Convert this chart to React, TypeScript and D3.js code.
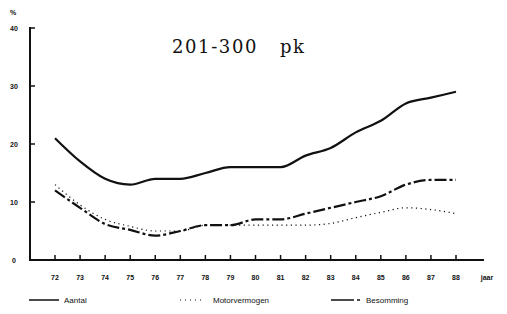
import { useEffect, useRef } from 'react';
import * as d3 from 'd3';

const years = ['72', '73', '74', '75', '76', '77', '78', '79', '80', '81', '82', '83', '84', '85', '86', '87', '88'];
const aantal = [21, 17, 14, 13, 14, 14, 15, 16, 16, 16, 18, 19.3, 22, 24, 27, 28, 29];
const motorvermogen = [13, 9.5, 7, 5.8, 5, 5, 6, 6, 6, 6, 6, 6.3, 7.3, 8.2, 9, 8.7, 8];
const besomming = [12, 9, 6.2, 5.2, 4.2, 5, 6, 6, 7, 7, 8, 9, 10, 11, 13, 13.8, 13.8];
const yTicks = [0, 10, 20, 30, 40];

const W = 507;
const H = 314;

const App = () => {
  const svgRef = useRef<SVGSVGElement>(null);

  useEffect(() => {
    const svg = d3.select(svgRef.current);
    svg.selectAll('*').remove();

    const x = d3.scalePoint().domain(years).range([55, 456]);
    const y = d3.scaleLinear().domain([0, 40]).range([260, 28]);
    const ink = '#111';

    // assen
    svg.append('line')
      .attr('x1', 30).attr('x2', 30).attr('y1', 27).attr('y2', 260)
      .attr('stroke', ink).attr('stroke-width', 2);
    svg.append('line')
      .attr('x1', 29).attr('x2', 484).attr('y1', 260).attr('y2', 260)
      .attr('stroke', ink).attr('stroke-width', 2);

    yTicks.forEach(t => {
      svg.append('line')
        .attr('x1', 30).attr('x2', 35).attr('y1', y(t)).attr('y2', y(t))
        .attr('stroke', ink).attr('stroke-width', 1.5);
      svg.append('text')
        .attr('x', 14).attr('y', y(t) + 3)
        .attr('text-anchor', 'middle')
        .attr('font-family', 'Liberation Sans, Arial, sans-serif')
        .attr('font-weight', 'bold')
        .attr('font-size', 7)
        .attr('fill', ink)
        .text(t);
    });

    svg.append('text')
      .attr('x', 13).attr('y', 15)
      .attr('text-anchor', 'middle')
      .attr('font-family', 'Liberation Sans, Arial, sans-serif')
      .attr('font-weight', 'bold')
      .attr('font-size', 7)
      .attr('fill', ink)
      .text('%');

    years.forEach(yr => {
      svg.append('line')
        .attr('x1', x(yr)!).attr('x2', x(yr)!).attr('y1', 260).attr('y2', 255)
        .attr('stroke', ink).attr('stroke-width', 1.5);
      svg.append('text')
        .attr('x', x(yr)!).attr('y', 280)
        .attr('text-anchor', 'middle')
        .attr('font-family', 'Liberation Sans, Arial, sans-serif')
        .attr('font-weight', 'bold')
        .attr('font-size', 7)
        .attr('fill', ink)
        .text(yr);
    });
    svg.append('text')
      .attr('x', 487).attr('y', 280)
      .attr('text-anchor', 'middle')
      .attr('font-family', 'Liberation Sans, Arial, sans-serif')
      .attr('font-weight', 'bold')
      .attr('font-size', 7)
      .attr('fill', ink)
      .text('jaar');

    // titel
    svg.append('text')
      .attr('x', 172).attr('y', 53)
      .attr('font-family', 'DejaVu Serif, Liberation Serif, serif')
      .attr('font-size', 18)
      .attr('letter-spacing', 1.6)
      .attr('fill', ink)
      .style('white-space', 'pre')
      .text('201-300   pk');

    const line = d3.line<number>()
      .x((_, i) => x(years[i])!)
      .y(d => y(d))
      .curve(d3.curveMonotoneX);

    svg.append('path').datum(motorvermogen)
      .attr('d', line).attr('fill', 'none')
      .attr('stroke', ink).attr('stroke-width', 1.2)
      .attr('stroke-dasharray', '1.2 3.5');
    svg.append('path').datum(besomming)
      .attr('d', line).attr('fill', 'none')
      .attr('stroke', ink).attr('stroke-width', 2.2)
      .attr('stroke-dasharray', '12 3 3 3');
    svg.append('path').datum(aantal)
      .attr('d', line).attr('fill', 'none')
      .attr('stroke', ink).attr('stroke-width', 2.2);

    // legenda
    const ly = 300;
    const lg = svg.append('g')
      .attr('font-family', 'Liberation Sans, Arial, sans-serif')
      .attr('font-size', 8)
      .attr('fill', ink);
    lg.append('line').attr('x1', 29).attr('x2', 59).attr('y1', ly).attr('y2', ly)
      .attr('stroke', ink).attr('stroke-width', 1.5);
    lg.append('text').attr('x', 64).attr('y', ly + 3).text('Aantal');
    lg.append('line').attr('x1', 180).attr('x2', 202).attr('y1', ly).attr('y2', ly)
      .attr('stroke', ink).attr('stroke-width', 1).attr('stroke-dasharray', '1 4');
    lg.append('text').attr('x', 213).attr('y', ly + 3).text('Motorvermogen');
    lg.append('line').attr('x1', 331).attr('x2', 354).attr('y1', ly).attr('y2', ly)
      .attr('stroke', ink).attr('stroke-width', 1.5);
    lg.append('line').attr('x1', 357).attr('x2', 360).attr('y1', ly).attr('y2', ly)
      .attr('stroke', ink).attr('stroke-width', 1.5);
    lg.append('text').attr('x', 366).attr('y', ly + 3).text('Besomming');
  }, []);

  return (
    <svg
      ref={svgRef}
      width={W}
      height={H}
      style={{ position: 'absolute', left: 0, top: 0, background: '#fff' }}
    />
  );
};

export default App;
